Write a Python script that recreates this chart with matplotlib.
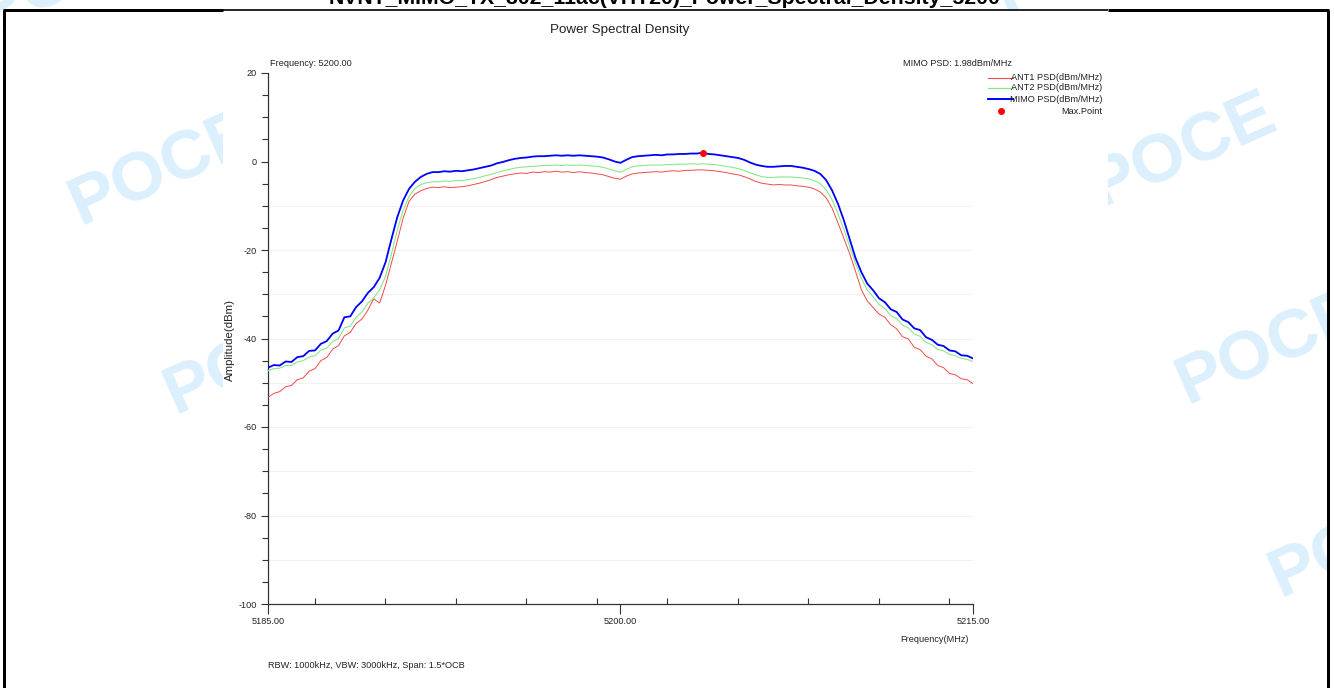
import numpy as np
import matplotlib
matplotlib.use("Agg")
import matplotlib.pyplot as plt
from matplotlib import font_manager
from matplotlib.lines import Line2D
from matplotlib.patches import Rectangle
from matplotlib.ticker import MultipleLocator

# ---------------- data ----------------
FREQ_START = 5185.0
FREQ_STOP = 5215.0

ANT1 = [-53.3, -52.4, -52.0, -50.9, -50.6, -49.3, -48.9, -47.4, -46.8, -45.0,
        -44.3, -42.4, -41.6, -39.4, -38.6, -36.6, -35.6, -33.6, -31.0, -32.0,
        -28.0, -23.0, -18.0, -12.8, -9.0, -7.4, -6.6, -6.1, -5.8, -5.9,
        -5.7, -5.9, -5.8, -5.7, -5.5, -5.2, -4.9, -4.5, -4.1, -3.6,
        -3.3, -3.0, -2.8, -2.6, -2.7, -2.4, -2.5, -2.3, -2.4, -2.2,
        -2.4, -2.3, -2.5, -2.3, -2.5, -2.6, -2.8, -3.0, -3.4, -3.8,
        -4.0, -3.3, -2.8, -2.6, -2.5, -2.4, -2.3, -2.4, -2.2, -2.1,
        -2.2, -2.0, -2.0, -1.9, -1.9, -2.0, -2.1, -2.3, -2.5, -2.8,
        -3.0, -3.4, -3.9, -4.5, -4.9, -5.1, -5.3, -5.2, -5.3, -5.3,
        -5.5, -5.6, -5.8, -6.2, -6.9, -8.2, -10.5, -13.8, -17.3, -20.8,
        -24.8, -29.0, -31.5, -33.0, -34.5, -35.2, -36.9, -37.8, -39.6, -40.1,
        -42.0, -42.5, -44.0, -44.6, -46.1, -46.6, -47.9, -48.2, -49.1, -49.3,
        -50.2]

ANT2 = [-47.3, -46.8, -46.7, -46.1, -46.1, -45.3, -45.0, -44.2, -43.9, -42.6,
        -42.2, -40.7, -40.0, -37.6, -37.2, -35.2, -34.0, -32.0, -30.8, -29.0,
        -26.0, -21.0, -15.5, -11.0, -7.9, -6.1, -5.2, -4.8, -4.6, -4.6,
        -4.4, -4.5, -4.3, -4.3, -4.1, -3.9, -3.6, -3.2, -2.9, -2.5,
        -2.1, -1.8, -1.5, -1.3, -1.2, -1.1, -1.0, -0.9, -0.9, -0.8,
        -0.9, -0.8, -0.9, -0.8, -0.9, -1.0, -1.1, -1.3, -1.7, -2.1,
        -2.4, -1.8, -1.2, -1.0, -0.9, -0.8, -0.8, -0.8, -0.7, -0.7,
        -0.6, -0.6, -0.5, -0.6, -0.5, -0.6, -0.7, -0.9, -1.1, -1.3,
        -1.6, -2.0, -2.5, -3.0, -3.4, -3.6, -3.6, -3.5, -3.5, -3.5,
        -3.6, -3.7, -3.9, -4.3, -5.0, -6.4, -8.6, -11.7, -15.3, -19.2,
        -23.0, -26.4, -29.0, -30.6, -32.3, -33.2, -34.8, -35.5, -37.0, -37.6,
        -39.0, -39.5, -40.9, -41.4, -42.5, -42.8, -43.6, -43.9, -44.5, -44.7,
        -45.2]

MIMO = [-46.6, -46.0, -46.1, -45.2, -45.3, -44.2, -44.0, -42.8, -42.7, -41.2,
        -40.6, -38.9, -38.2, -35.2, -35.0, -32.9, -31.6, -29.7, -28.4, -26.3,
        -22.8, -17.6, -12.6, -8.8, -6.2, -4.6, -3.5, -2.8, -2.4, -2.4,
        -2.2, -2.3, -2.1, -2.2, -2.0, -1.8, -1.5, -1.2, -0.9, -0.4,
        -0.1, 0.3, 0.6, 0.8, 0.9, 1.1, 1.2, 1.2, 1.3, 1.4,
        1.3, 1.4, 1.3, 1.4, 1.3, 1.2, 1.1, 0.9, 0.5, 0.0,
        -0.3, 0.4, 1.0, 1.2, 1.3, 1.4, 1.5, 1.4, 1.6, 1.6,
        1.7, 1.7, 1.8, 1.8, 1.98, 1.7, 1.6, 1.4, 1.2, 1.0,
        0.8, 0.4, -0.2, -0.7, -1.0, -1.2, -1.2, -1.1, -1.0, -1.0,
        -1.2, -1.4, -1.7, -2.1, -2.8, -4.2, -6.5, -9.5, -13.2, -17.5,
        -21.8, -25.0, -27.6, -29.1, -30.9, -31.8, -33.4, -34.0, -35.7, -36.3,
        -37.7, -38.1, -39.7, -40.3, -41.4, -41.7, -42.7, -42.9, -43.8, -43.9,
        -44.5]

freq = np.linspace(FREQ_START, FREQ_STOP, len(MIMO))

MAIN_TITLE = "NVNT_MIMO_TX_802_11ac(VHT20)_Power_Spectral_Density_5200"
CHART_TITLE = "Power Spectral Density"
CENTER_FREQ = 5200.00
X_TICKS = [5185, 5200, 5215]
X_TICK_LABELS = ["5185.00", "5200.00", "5215.00"]
Y_TICKS = [20, 0, -20, -40, -60, -80, -100]
GRID_LEVELS = [-10, -20, -30, -40, -50, -60, -70, -80, -90]
SERIES_NAMES = ["ANT1 PSD(dBm/MHz)", "ANT2 PSD(dBm/MHz)", "MIMO PSD(dBm/MHz)"]
MAX_LABEL = "Max.Point"
X_LABEL = "Frequency(MHz)"
Y_LABEL = "Amplitude(dBm)"
FOOTNOTE = "RBW: 1000kHz, VBW: 3000kHz, Span: 1.5*OCB"
WATERMARK = "POCE"

# ---------------- fonts ----------------
_names = {f.name for f in font_manager.fontManager.ttflist}
if 'Liberation Sans Narrow' in _names:
    SMALL_FAMILY = ['Liberation Sans Narrow', 'Liberation Sans', 'DejaVu Sans']
    SMALL_SIZE = 7.9
else:
    SMALL_FAMILY = ['Liberation Sans', 'DejaVu Sans']
    SMALL_SIZE = 6.6
plt.rcParams['font.family'] = ['Liberation Sans', 'DejaVu Sans']

# ---------------- layout ----------------
W, H = 1334, 688
fig = plt.figure(figsize=(W / 100, H / 100), dpi=100)
fig.patch.set_facecolor('white')


def fx(x):
    return x / W


def fy(y):
    return 1 - y / H


# watermarks
for (wx, wy) in [(80, 226), (175, 415), (1100, 208), (1187, 405), (1280, 598),
                 (-13, 33), (1006, 17)]:
    fig.text(fx(wx), fy(wy), WATERMARK, rotation=24, rotation_mode='anchor',
             ha='left', va='baseline', fontsize=50, fontweight='bold',
             color='#dbf0fc', zorder=-10)

# mask outside right frame
fig.add_artist(Rectangle((fx(1329), 0), 1 - fx(1329), fy(10), transform=fig.transFigure,
                         facecolor='white', edgecolor='none', zorder=-9))
# chart image white background
fig.add_artist(Rectangle((fx(223), 0), fx(1108) - fx(223), fy(11), transform=fig.transFigure,
                         facecolor='white', edgecolor='none', zorder=-8))

# frame lines
lw_thick = 3 * 72 / 100
for xs, ys, lw in [((4, 4), (10, 700), lw_thick), ((1328, 1328), (10, 700), lw_thick),
                   ((3, 223), (10, 10), lw_thick), ((1108, 1329), (10, 10), lw_thick),
                   ((223, 1108), (10, 10), 1.2)]:
    fig.add_artist(Line2D([fx(xs[0]), fx(xs[1])], [fy(ys[0]), fy(ys[1])],
                          transform=fig.transFigure, color='black', lw=lw, zorder=-7,
                          solid_capstyle='butt'))

# header (mostly cut off at the top)
fig.text(fx(665), fy(4.2), MAIN_TITLE, ha='center', va='baseline', fontsize=15.3,
         fontweight='bold', color='black', zorder=-6)

# chart title
fig.text(fx(620), fy(32.5), CHART_TITLE, ha='center', va='baseline', fontsize=9.6,
         color='#222222')

# axes
AX_L, AX_R, AX_T, AX_B = 268, 973, 73, 604
ax = fig.add_axes([fx(AX_L), fy(AX_B), (AX_R - AX_L) / W, (AX_B - AX_T) / H])
ax.set_facecolor('none')
ax.set_xlim(FREQ_START, FREQ_STOP)
ax.set_ylim(-100, 20)
for s in ['top', 'right']:
    ax.spines[s].set_visible(False)
for s in ['left', 'bottom']:
    ax.spines[s].set_color('#333333')
    ax.spines[s].set_linewidth(0.9)

ax.set_xticks(X_TICKS, X_TICK_LABELS)
ax.xaxis.set_minor_locator(MultipleLocator(3))
ax.set_yticks(Y_TICKS, [str(v) for v in Y_TICKS])
ax.yaxis.set_minor_locator(MultipleLocator(5))
ax.tick_params(axis='x', which='major', direction='out', length=7, width=0.8,
               color='#333333', labelsize=SMALL_SIZE, pad=2, labelcolor='#222222')
ax.tick_params(axis='x', which='minor', direction='in', length=4, width=0.8, color='#333333')
ax.tick_params(axis='y', which='major', direction='out', length=5, width=0.8,
               color='#333333', labelsize=SMALL_SIZE, pad=3, labelcolor='#222222')
ax.tick_params(axis='y', which='minor', direction='out', length=4, width=0.8, color='#333333')
for lab in ax.get_xticklabels() + ax.get_yticklabels():
    lab.set_family(SMALL_FAMILY)

ax.hlines(GRID_LEVELS, FREQ_START, FREQ_STOP, colors='#f1f1f1', linewidth=0.8, zorder=0)

mimo = np.array(MIMO)
ax.plot(freq, ANT1, color='#f24a4a', lw=0.7, zorder=3)
ax.plot(freq, ANT2, color='#8ae88a', lw=0.8, zorder=3)
ax.plot(freq, mimo, color='#0000ff', lw=1.3, zorder=4)
imax = int(np.argmax(mimo))
ax.plot(freq[imax], mimo[imax], 'o', color='#ff0000', ms=4, zorder=5)


def axf(x, y):
    return ((x - AX_L) / (AX_R - AX_L), (AX_B - y) / (AX_B - AX_T))


small = dict(fontsize=SMALL_SIZE, family=SMALL_FAMILY, color='#222222', transform=ax.transAxes)
ax.text(*axf(270, 64), f"Frequency: {CENTER_FREQ:.2f}", ha='left', va='center', **small)
ax.text(*axf(903, 64), f"MIMO PSD: {mimo[imax]:.2f}dBm/MHz", ha='left', va='center', **small)
ax.text(*axf(969, 639), X_LABEL, ha='right', va='center', **small)
ax.text(*axf(268, 665), FOOTNOTE, ha='left', va='center', **small)
ax.text(*axf(230, 340), Y_LABEL, ha='center', va='center', rotation=90, fontsize=8.2,
        family=['Liberation Sans', 'DejaVu Sans'], color='#222222', transform=ax.transAxes)

# legend (right of the plot area)
legend_colors = ['#f24a4a', '#8ae88a', '#0000ff']
legend_lw = [0.8, 0.9, 1.4]
rows_y = [78, 88, 99]
for name, c, lw, ry in zip(SERIES_NAMES, legend_colors, legend_lw, rows_y):
    x0, y0 = axf(988, ry)
    x1, _ = axf(1013, ry)
    ax.add_line(Line2D([x0, x1], [y0, y0], transform=ax.transAxes, color=c, lw=lw, clip_on=False))
    ax.text(*axf(1102, ry), name, ha='right', va='center', **small)
mx, my = axf(1001, 111)
ax.add_line(Line2D([mx], [my], transform=ax.transAxes, marker='o', color='#ff0000', ms=4,
                   lw=0, clip_on=False))
ax.text(*axf(1102, 111), MAX_LABEL, ha='right', va='center', **small)

fig.savefig('out.png', dpi=100, facecolor='white')
